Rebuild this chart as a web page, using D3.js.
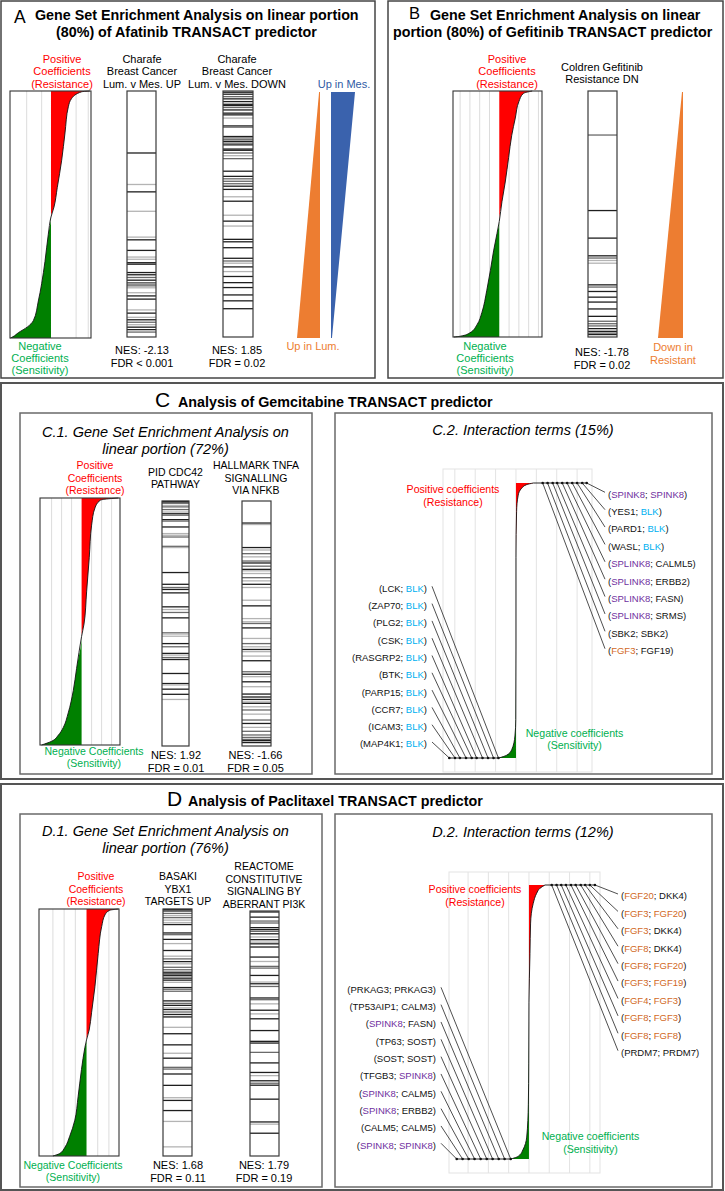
<!DOCTYPE html>
<html><head><meta charset="utf-8">
<script src="https://cdn.jsdelivr.net/npm/d3@7"></script>
<style>
body{margin:0;background:#fff}
svg{display:block}
text{font-family:"Liberation Sans",Arial,Helvetica,sans-serif}
</style>
</head><body>
<svg id="fig" width="725" height="1191"></svg>
<script>
// ================= DATA =================
// Sorted linear coefficients: [rank fraction (0 = top), coefficient (box-width units)]
const coefA  = [[0,0.48],[0.003,0.38],[0.03,0.255],[0.064,0.214],[0.17,0.173],[0.28,0.132],[0.39,0.078],[0.47,0.037],[0.51,0],[0.58,-0.033],[0.69,-0.074],[0.78,-0.115],[0.85,-0.156],[0.93,-0.218],[0.955,-0.29],[0.978,-0.4],[0.995,-0.47],[1,-0.5]];
const coefB  = [[0,0.37],[0.01,0.27],[0.043,0.22],[0.11,0.18],[0.18,0.14],[0.27,0.105],[0.37,0.067],[0.45,0.03],[0.53,0],[0.58,-0.026],[0.65,-0.064],[0.73,-0.10],[0.81,-0.14],[0.90,-0.195],[0.95,-0.25],[0.983,-0.33],[0.997,-0.44],[1,-0.51]];
const coefC1 = [[0,0.46],[0.004,0.31],[0.01,0.23],[0.04,0.167],[0.11,0.125],[0.24,0.096],[0.38,0.0625],[0.51,0.03],[0.56,0],[0.69,-0.0625],[0.78,-0.104],[0.87,-0.167],[0.93,-0.23],[0.96,-0.29],[0.985,-0.375],[1,-0.5]];
const coefD1 = [[0,0.40],[0.005,0.29],[0.024,0.23],[0.07,0.19],[0.18,0.146],[0.315,0.105],[0.42,0.063],[0.49,0.033],[0.53,0],[0.56,-0.02],[0.65,-0.063],[0.76,-0.105],[0.855,-0.146],[0.92,-0.21],[0.965,-0.27],[0.99,-0.335],[1,-0.42]];

// coefficient axis domains and grid ticks
const domA = [-0.506,0.494], domB = [-0.52,0.48], domC1 = [-0.52,0.48], domD1 = [-0.594,0.406];
const gridA = [-0.30,-0.115,0.31,0.46];
const gridB = [-0.44,-0.33,-0.22,-0.11,0.11,0.22,0.33,0.44];
const gridC1 = [-0.375,-0.25,-0.125,0.125,0.25,0.375];
const gridD1 = [-0.42,-0.28,-0.14,0.14,0.28];

// Gene set hits: [rank fraction, shade (0 black, 1 dark grey, 2 light grey)]
const hitsAup = [[0.252,0],[0.38,2],[0.41,0],[0.489,2],[0.594,2],[0.605,0],[0.648,0],[0.675,2],[0.684,2],[0.698,0],[0.704,0],[0.738,0],[0.747,0],[0.758,1],[0.769,0],[0.779,1],[0.785,1],[0.792,1],[0.80,2],[0.82,2],[0.833,0],[0.846,0],[0.89,2],[0.903,0],[0.92,2],[0.93,0],[0.94,1],[0.95,2],[0.96,0],[0.97,0],[0.98,1]];
const hitsAdown = [[0.005,0],[0.013,0],[0.023,1],[0.032,0],[0.043,0],[0.054,0],[0.059,0],[0.067,1],[0.077,0],[0.09,0],[0.097,0],[0.11,2],[0.142,0],[0.147,1],[0.185,0],[0.191,1],[0.198,1],[0.205,0],[0.212,1],[0.219,0],[0.236,0],[0.241,0],[0.252,1],[0.263,2],[0.275,1],[0.326,0],[0.347,0],[0.357,1],[0.367,1],[0.377,1],[0.387,0],[0.40,0],[0.43,2],[0.448,0],[0.505,2],[0.529,0],[0.549,2],[0.603,0],[0.613,0],[0.637,0],[0.68,0],[0.691,1],[0.70,2],[0.715,0],[0.734,2],[0.754,0],[0.779,0],[0.799,0],[0.829,0],[0.853,0],[0.885,0]];
const hitsB = [[0.179,1],[0.486,0],[0.598,0],[0.67,0],[0.679,1],[0.689,2],[0.70,2],[0.788,0],[0.797,1],[0.815,0],[0.838,0],[0.858,0],[0.886,0],[0.916,0],[0.936,1],[0.946,1],[0.955,1],[0.966,0],[0.977,0],[0.984,1],[0.99,0]];
const hitsC1pid = [[0.002,0],[0.008,0],[0.018,2],[0.024,1],[0.035,1],[0.045,2],[0.052,0],[0.058,1],[0.076,0],[0.082,1],[0.106,0],[0.133,2],[0.14,2],[0.147,1],[0.185,1],[0.19,2],[0.292,0],[0.34,0],[0.353,1],[0.361,0],[0.375,0],[0.432,0],[0.443,2],[0.455,1],[0.477,0],[0.538,1],[0.543,2],[0.552,2],[0.582,0],[0.595,1],[0.622,0],[0.629,2],[0.639,1],[0.647,0],[0.704,0],[0.745,0],[0.751,2],[0.768,0],[0.789,0],[0.81,2]];
const hitsC1tnfa = [[0.09,0],[0.096,2],[0.19,0],[0.20,2],[0.215,1],[0.228,2],[0.245,1],[0.253,0],[0.266,1],[0.279,0],[0.285,2],[0.296,2],[0.313,1],[0.326,2],[0.34,0],[0.353,2],[0.405,2],[0.428,0],[0.48,2],[0.493,2],[0.50,1],[0.518,0],[0.561,2],[0.582,1],[0.595,2],[0.606,0],[0.615,2],[0.633,2],[0.652,0],[0.697,1],[0.707,0],[0.717,2],[0.738,0],[0.758,2],[0.788,0],[0.80,0],[0.81,0],[0.82,2],[0.826,0],[0.84,2],[0.853,1],[0.87,2],[0.894,1],[0.908,0],[0.924,2],[0.94,1],[0.955,1],[0.965,1],[0.973,1],[0.978,0],[0.986,0]];
const hitsD1basaki = [[0.002,0],[0.008,0],[0.018,1],[0.027,2],[0.035,1],[0.045,2],[0.055,2],[0.063,0],[0.097,0],[0.104,1],[0.123,0],[0.14,2],[0.168,0],[0.191,2],[0.202,1],[0.213,0],[0.222,2],[0.236,1],[0.246,1],[0.256,0],[0.263,0],[0.27,0],[0.28,0],[0.288,0],[0.297,2],[0.318,0],[0.325,1],[0.333,1],[0.372,0],[0.382,1],[0.39,0],[0.40,2],[0.407,0],[0.417,1],[0.427,0],[0.437,0],[0.479,2],[0.505,0],[0.55,0],[0.584,2],[0.604,0],[0.641,1],[0.648,1],[0.668,0],[0.714,0],[0.764,2],[0.775,0],[0.816,0],[0.86,2],[0.963,2]];
const hitsD1reactome = [[0.004,0],[0.025,0],[0.041,1],[0.049,1],[0.068,0],[0.076,0],[0.083,1],[0.093,0],[0.106,2],[0.117,0],[0.127,2],[0.134,0],[0.147,0],[0.188,0],[0.206,2],[0.226,1],[0.233,1],[0.263,0],[0.29,2],[0.297,0],[0.308,1],[0.355,0],[0.362,1],[0.379,2],[0.405,0],[0.42,2],[0.44,0],[0.488,0],[0.532,0],[0.539,0],[0.577,1],[0.62,0],[0.659,0],[0.672,2],[0.693,0],[0.703,1],[0.711,0],[0.768,0],[0.861,0],[0.87,2],[0.907,0]];

// Direction wedges: relative width at top and at bottom
const wedgeUp = [0.04,1], wedgeDown = [1,0.04];

// Interaction terms: curve [rank fraction, coefficient], top-10 / bottom-10 coefficients
// gene label colour codes: p purple, b blue, o orange, k black
const curveC2 = [[0,0.85],[0.006,0.52],[0.019,0.28],[0.044,0.11],[0.104,0.03],[0.27,0],[0.6,0],[0.86,-0.01],[0.92,-0.05],[0.97,-0.21],[0.99,-0.46],[1,-0.84]];
const topC2 = [3.47,3.25,3.0,2.76,2.51,2.27,2.02,1.80,1.55,1.31];
const botC2 = [-0.86,-1.10,-1.37,-1.64,-1.93,-2.17,-2.45,-2.75,-2.99,-3.27];
const rightC2 = [["SPINK8","SPINK8"],["YES1","BLK"],["PARD1","BLK"],["WASL","BLK"],["SPLINK8","CALML5"],["SPLINK8","ERBB2"],["SPLINK8","FASN"],["SPLINK8","SRMS"],["SBK2","SBK2"],["FGF3","FGF19"]];
const rightC2col = ["pp","kb","kb","kb","pk","pk","pk","pk","kk","ok"];
const leftC2 = [["LCK","BLK"],["ZAP70","BLK"],["PLG2","BLK"],["CSK","BLK"],["RASGRP2","BLK"],["BTK","BLK"],["PARP15","BLK"],["CCR7","BLK"],["ICAM3","BLK"],["MAP4K1","BLK"]];
const leftC2col = ["kb","kb","kb","kb","kb","kb","kb","kb","kb","kb"];

const curveD2 = [[0,0.79],[0.012,0.54],[0.03,0.38],[0.067,0.21],[0.139,0.08],[0.25,0.05],[0.43,0],[0.65,-0.01],[0.8,-0.03],[0.92,-0.11],[0.967,-0.3],[0.985,-0.45],[0.993,-0.6],[1,-0.9]];
const topD2 = [3.25,3.0,2.77,2.55,2.3,2.07,1.82,1.59,1.36,1.12];
const botD2 = [-0.9,-1.2,-1.49,-1.79,-2.08,-2.38,-2.68,-2.97,-3.27,-3.56];
const rightD2 = [["FGF20","DKK4"],["FGF3","FGF20"],["FGF3","DKK4"],["FGF8","DKK4"],["FGF8","FGF20"],["FGF3","FGF19"],["FGF4","FGF3"],["FGF8","FGF3"],["FGF8","FGF8"],["PRDM7","PRDM7"]];
const rightD2col = ["ok","oo","ok","ok","oo","oo","oo","oo","oo","kk"];
const leftD2 = [["PRKAG3","PRKAG3"],["TP53AIP1","CALM3"],["SPINK8","FASN"],["TP63","SOST"],["SOST","SOST"],["TFGB3","SPINK8"],["SPINK8","CALM5"],["SPINK8","ERBB2"],["CALM5","CALM5"],["SPINK8","SPINK8"]];
const leftD2col = ["kk","kk","pk","kk","kk","kp","pk","pk","kk","pp"];
const gridInter = [-3,-2,-1,0,1,2,3];
const domC2 = [-3.58,3.73], domD2 = [-3.94,3.5];

// ================= DRAW =================
const svg = d3.select('#fig');
const RED='#ff0000', GTXT='#00b050', GFILL='#008000', ORANGE='#ed7d31', BTRI='#3a62ad', BTXT='#2f5aa5';
const GENECOL = {p:'#7030a0', b:'#00b0f0', o:'#d2691e', k:'#111'};
const SHADES=['#1e1e1e','#6a6a6a','#b4b4b4'];

function T(s,x,y,o={}){
  return svg.append('text').attr('x',x).attr('y',y)
    .attr('font-size',o.size||11).attr('fill',o.fill||'#000')
    .attr('text-anchor',o.anchor||'middle')
    .attr('font-weight',o.weight||'normal').attr('font-style',o.style||'normal')
    .text(s);
}
function block(arr,x,ys,o){arr.forEach((s,i)=>T(s,x,ys[i],o));}
function frame(x0,y0,x1,y1,stroke,sw){
  svg.append('rect').attr('x',x0).attr('y',y0).attr('width',x1-x0).attr('height',y1-y0)
    .attr('fill','none').attr('stroke',stroke).attr('stroke-width',sw);
}

function coefPanel(c){
  const x=d3.scaleLinear().domain(c.dom).range([c.x0,c.x1]);
  const y=d3.scaleLinear().domain([0,1]).range([c.y0,c.y1]);
  const g=svg.append('g');
  c.grid.forEach(v=>g.append('line').attr('x1',x(v)).attr('x2',x(v)).attr('y1',c.y0).attr('y2',c.y1)
    .attr('stroke','#dcdcdc').attr('stroke-width',1));
  const aPos=d3.area().curve(d3.curveMonotoneY).y(d=>y(d[0])).x0(x(0)).x1(d=>x(Math.max(0,d[1])));
  const aNeg=d3.area().curve(d3.curveMonotoneY).y(d=>y(d[0])).x0(x(0)).x1(d=>x(Math.min(0,d[1])));
  g.append('path').attr('d',aPos(c.data)).attr('fill',RED);
  g.append('path').attr('d',aNeg(c.data)).attr('fill',GFILL);
  const ln=d3.line().curve(d3.curveMonotoneY).y(d=>y(d[0])).x(d=>x(d[1]));
  g.append('path').attr('d',ln(c.data)).attr('fill','none').attr('stroke','#111').attr('stroke-width',0.9);
  g.append('rect').attr('x',c.x0).attr('y',c.y0).attr('width',c.x1-c.x0).attr('height',c.y1-c.y0)
    .attr('fill','none').attr('stroke','#333').attr('stroke-width',1.1);
}

function hitBar(c){
  const y=d3.scaleLinear().domain([0,1]).range([c.y0,c.y1]);
  const g=svg.append('g');
  g.selectAll('line').data(c.hits).join('line')
    .attr('x1',c.x0).attr('x2',c.x1).attr('y1',d=>y(d[0])).attr('y2',d=>y(d[0]))
    .attr('stroke',d=>SHADES[d[1]]).attr('stroke-width',1.3);
  g.append('rect').attr('x',c.x0).attr('y',c.y0).attr('width',c.x1-c.x0).attr('height',c.y1-c.y0)
    .attr('fill','none').attr('stroke','#3a3a3a').attr('stroke-width',1.2);
}

function wedge(c){
  const y=d3.scaleLinear().domain([0,1]).range([c.y0,c.y1]);
  const w=d3.scaleLinear().domain([0,1]).range([0,c.w]);
  const pts=[[c.edge,y(0)],[c.edge+c.side*w(c.rel[0]),y(0)],[c.edge+c.side*w(c.rel[1]),y(1)],[c.edge,y(1)]];
  svg.append('path').attr('d',d3.line()(pts)+'Z').attr('fill',c.fill);
}

function pairLabel(p,col,x,y,anchor){
  const t=svg.append('text').attr('x',x).attr('y',y).attr('font-size',9.5).attr('text-anchor',anchor).attr('fill','#111');
  t.append('tspan').text('(');
  t.append('tspan').attr('fill',GENECOL[col[0]]).text(p[0]);
  t.append('tspan').text('; ');
  t.append('tspan').attr('fill',GENECOL[col[1]]).text(p[1]);
  t.append('tspan').text(')');
}

function interPanel(c){
  const x=d3.scaleLinear().domain(c.dom).range([c.gx0,c.gx1]);
  const y=d3.scaleLinear().domain([0,1]).range([c.ty0,c.ty1]);
  const g=svg.append('g');
  g.append('rect').attr('x',c.gx0).attr('y',c.gy0).attr('width',c.gx1-c.gx0).attr('height',c.gy1-c.gy0)
    .attr('fill','none').attr('stroke','#e3e3e3').attr('stroke-width',1);
  gridInter.forEach(v=>g.append('line').attr('x1',x(v)).attr('x2',x(v)).attr('y1',c.gy0).attr('y2',c.gy1)
    .attr('stroke','#e3e3e3').attr('stroke-width',1));
  const aPos=d3.area().curve(d3.curveMonotoneY).y(d=>y(d[0])).x0(x(0)).x1(d=>x(Math.max(0,d[1])));
  const aNeg=d3.area().curve(d3.curveMonotoneY).y(d=>y(d[0])).x0(x(0)).x1(d=>x(Math.min(0,d[1])));
  g.append('path').attr('d',aPos(c.curve)).attr('fill',RED);
  g.append('path').attr('d',aNeg(c.curve)).attr('fill',GFILL);
  const ln=d3.line().curve(d3.curveMonotoneY).y(d=>y(d[0])).x(d=>x(d[1]));
  g.append('path').attr('d',ln(c.curve)).attr('fill','none').attr('stroke','#111').attr('stroke-width',0.9);
  g.append('line').attr('x1',x(c.curve[0][1])).attr('x2',x(d3.max(c.top))).attr('y1',y(0)).attr('y2',y(0)).attr('stroke','#111').attr('stroke-width',0.9);
  g.append('line').attr('x1',x(d3.min(c.bot))).attr('x2',x(c.curve[c.curve.length-1][1])).attr('y1',y(1)).attr('y2',y(1)).attr('stroke','#111').attr('stroke-width',0.9);
  const ry=d3.scaleLinear().domain([0,c.right.length-1]).range(c.rY);
  c.right.forEach((p,i)=>{
    g.append('line').attr('x1',x(c.top[i])).attr('y1',y(0)).attr('x2',c.rX-3).attr('y2',ry(i)-2)
      .attr('stroke','#222').attr('stroke-width',0.8);
    pairLabel(p,c.rCol[i],c.rX,ry(i)+3.4,'start');
  });
  const ly=d3.scaleLinear().domain([0,c.left.length-1]).range(c.lY);
  c.left.forEach((p,i)=>{
    g.append('line').attr('x1',c.lX+5).attr('y1',ly(i)-2).attr('x2',x(c.bot[i])).attr('y2',y(1))
      .attr('stroke','#222').attr('stroke-width',0.8);
    pairLabel(p,c.lCol[i],c.lX,ly(i)+3.4,'end');
  });
  g.selectAll('circle.t').data(c.top).join('circle').attr('cx',d=>x(d)).attr('cy',y(0)).attr('r',1.3).attr('fill','#111');
  g.selectAll('circle.b').data(c.bot).join('circle').attr('cx',d=>x(d)).attr('cy',y(1)).attr('r',1.3).attr('fill','#111');
}

// ---------- frames ----------
frame(1,1,375,378,'#444',1.5);
frame(388,1,723,378,'#444',1.5);
frame(1,383,723,779,'#555',2);
frame(20,413,312,774,'#6a6a6a',1.5);
frame(335,413,712,774,'#6a6a6a',1.5);
frame(1,784,723,1190,'#555',2);
frame(20,814,322,1187,'#6a6a6a',1.5);
frame(335,814,712,1187,'#6a6a6a',1.5);

// ---------- Panel A ----------
T('A',14,22.5,{size:17.5,anchor:'start'});
T('Gene Set Enrichment Analysis on linear portion',35,20,{size:14.3,weight:'bold',anchor:'start'});
T('(80%) of Afatinib TRANSACT predictor',56,37,{size:14.3,weight:'bold',anchor:'start'});
block(['Positive','Coefficients','(Resistance)'],62,[62.5,75,87.5],{fill:RED});
block(['Charafe','Breast Cancer','Lum. v Mes. UP'],142,[62.5,75,87.5]);
block(['Charafe','Breast Cancer','Lum. v Mes. DOWN'],237,[62.5,75,87.5]);
T('Up in Mes.',344,87.5,{fill:BTXT});
coefPanel({x0:10,x1:91,y0:91,y1:338,dom:domA,grid:gridA,data:coefA});
hitBar({x0:127,x1:156,y0:91,y1:337,hits:hitsAup});
hitBar({x0:223,x1:253,y0:91,y1:337,hits:hitsAdown});
wedge({edge:320,side:-1,w:23,y0:92,y1:338,rel:wedgeUp,fill:ORANGE});
wedge({edge:331,side:1,w:24,y0:92,y1:338,rel:wedgeDown,fill:BTRI});
block(['Negative','Coefficients','(Sensitivity)'],40,[349.5,361.5,373.5],{fill:GTXT});
block(['NES: -2.13','FDR < 0.001'],142,[354,367]);
block(['NES: 1.85','FDR = 0.02'],237,[354,367]);
T('Up in Lum.',313,350,{fill:ORANGE});

// ---------- Panel B ----------
T('B',409,18.5,{size:16.5,anchor:'start'});
T('Gene Set Enrichment Analysis on linear',430,20,{size:14.3,weight:'bold',anchor:'start'});
T('portion (80%) of Gefitinib TRANSACT predictor',393,37,{size:14.3,weight:'bold',anchor:'start'});
block(['Positive','Coefficients','(Resistance)'],507,[62.5,75,87.5],{fill:RED});
block(['Coldren Gefitinib','Resistance DN'],602,[71,83]);
coefPanel({x0:453,x1:542,y0:91,y1:337,dom:domB,grid:gridB,data:coefB});
hitBar({x0:588,x1:617,y0:91,y1:337,hits:hitsB});
wedge({edge:683,side:-1,w:25,y0:92,y1:338,rel:wedgeUp,fill:ORANGE});
block(['Negative','Coefficients','(Sensitivity)'],485,[349.5,361.5,373.5],{fill:GTXT});
block(['NES: -1.78','FDR = 0.02'],602,[355.5,368.5]);
block(['Down in','Resistant'],673,[351,363.5],{fill:ORANGE});

// ---------- Panel C ----------
T('C',155,407,{size:21,anchor:'start'});
T('Analysis of Gemcitabine TRANSACT predictor',178,407,{size:14.3,weight:'bold',anchor:'start'});
T('C.1. Gene Set Enrichment Analysis on',165.5,437,{size:14.5,style:'italic'});
T('linear portion (72%)',165.5,453.5,{size:14.5,style:'italic'});
block(['Positive','Coefficients','(Resistance)'],95,[469,481.5,493.5],{fill:RED,size:10.5});
block(['PID CDC42','PATHWAY'],175.5,[476,488],{size:10.5});
block(['HALLMARK TNFA','SIGNALLING','VIA NFKB'],256,[469,481.5,494],{size:10.5});
coefPanel({x0:40,x1:120,y0:498,y1:745,dom:domC1,grid:gridC1,data:coefC1});
hitBar({x0:162,x1:189,y0:501,y1:746,hits:hitsC1pid});
hitBar({x0:242,x1:271,y0:501,y1:746,hits:hitsC1tnfa});
block(['Negative Coefficients','(Sensitivity)'],94,[755,766.5],{fill:GTXT,size:10.5});
block(['NES: 1.92','FDR = 0.01'],176,[759,771.5]);
block(['NES: -1.66','FDR = 0.05'],255.5,[759,771.5]);

T('C.2. Interaction terms (15%)',523,435,{size:14.5,style:'italic'});
interPanel({dom:domC2,gx0:443,gx1:592,gy0:469,gy1:772,ty0:483,ty1:758,curve:curveC2,top:topC2,bot:botC2,
  right:rightC2,rCol:rightC2col,rX:608,rY:[494.3,650.7],left:leftC2,lCol:leftC2col,lX:427,lY:[588.3,744]});
block(['Positive coefficients','(Resistance)'],453,[493,505.5],{fill:RED,size:10.6});
block(['Negative coefficients','(Sensitivity)'],574.5,[736.5,749],{fill:GTXT,size:10.6});

// ---------- Panel D ----------
T('D',167,806,{size:21,anchor:'start'});
T('Analysis of Paclitaxel TRANSACT predictor',188,806,{size:14.3,weight:'bold',anchor:'start'});
T('D.1. Gene Set Enrichment Analysis on',165.5,835.5,{size:14.5,style:'italic'});
T('linear portion (76%)',165.5,852.5,{size:14.5,style:'italic'});
block(['Positive','Coefficients','(Resistance)'],96,[880,892.5,905],{fill:RED,size:10.5});
block(['BASAKI','YBX1','TARGETS UP'],178,[880,892.5,905],{size:10.5});
block(['REACTOME','CONSTITUTIVE','SIGNALING BY','ABERRANT PI3K'],264,[870,882.5,895,907.5],{size:10.5});
coefPanel({x0:39,x1:119,y0:909,y1:1156,dom:domD1,grid:gridD1,data:coefD1});
hitBar({x0:163,x1:192,y0:909,y1:1156,hits:hitsD1basaki});
hitBar({x0:250,x1:279,y0:911,y1:1156,hits:hitsD1reactome});
block(['Negative Coefficients','(Sensitivity)'],73,[1169,1181],{fill:GTXT,size:10.5});
block(['NES: 1.68','FDR = 0.11'],178,[1169,1182]);
block(['NES: 1.79','FDR = 0.19'],264,[1169,1182]);

T('D.2. Interaction terms (12%)',523,836.5,{size:14.5,style:'italic'});
interPanel({dom:domD2,gx0:449,gx1:600,gy0:872,gy1:1173,ty0:885,ty1:1159,curve:curveD2,top:topD2,bot:botD2,
  right:rightD2,rCol:rightD2col,rX:621,rY:[896,1052.7],left:leftD2,lCol:leftD2col,lX:436,lY:[989.3,1145.3]});
block(['Positive coefficients','(Resistance)'],475,[893,905.5],{fill:RED,size:10.6});
block(['Negative coefficients','(Sensitivity)'],590.5,[1140,1152.5],{fill:GTXT,size:10.6});
</script>
</body></html>
